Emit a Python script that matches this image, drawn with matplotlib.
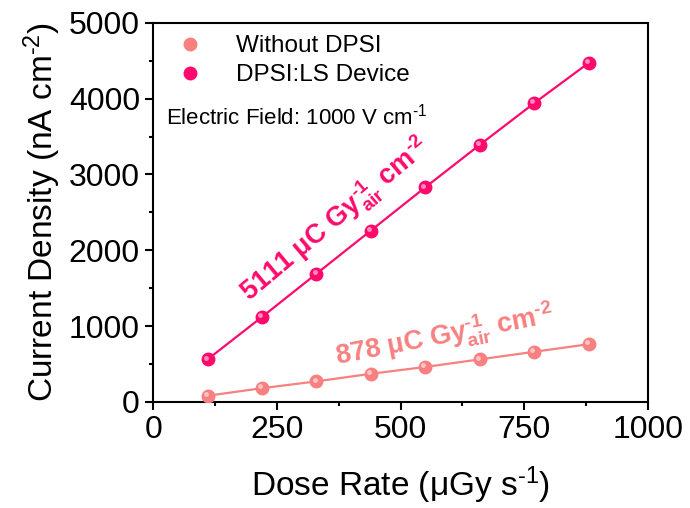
import numpy as np
import matplotlib
matplotlib.use('Agg')
import matplotlib.pyplot as plt
from matplotlib.transforms import offset_copy
from matplotlib.ticker import MultipleLocator

plt.rcParams['font.family'] = ['Liberation Sans', 'DejaVu Sans']
plt.rcParams['mathtext.fontset'] = 'custom'
plt.rcParams['mathtext.rm'] = 'Liberation Sans'
plt.rcParams['mathtext.it'] = 'Liberation Sans'
plt.rcParams['mathtext.bf'] = 'Liberation Sans:bold'

# dose rate (uGy/s) and current density (nA/cm2)
dosis = np.array([110, 220, 330, 440, 550, 660, 770, 880])
sin_dpsi = np.array([80, 180, 270, 370, 460, 560, 660, 760])
con_dpsi = np.array([560, 1120, 1690, 2260, 2830, 3390, 3940, 4470])

etiquetas = ['Without DPSI', 'DPSI:LS Device']
pendientes = ['878', '5111']
colores = ['#F88080', '#FF0A6C']

guion = '\u2010'  # guion corto para los exponentes


def esfera(ax, x, y, color):
	'''dibuja puntos con brillo para que parezcan esferas'''
	ax.plot(x, y, 'o', color=color, ms=9, mec=color, zorder=4)
	brillo = offset_copy(ax.transData, fig=ax.figure, x=-1.3, y=1.3, units='points')
	ax.plot(x, y, 'o', color='white', ms=3.5, mec='none', alpha=0.55,
		transform=brillo, zorder=5)


def sensibilidad(valor):
	return (valor + r' $\mathbf{\mu}$C Gy$_{\mathbf{air}}^{\mathbf{' + guion + r'1}}$ cm$^{\mathbf{'
		+ guion + r'2}}$')


fig = plt.figure(figsize=(6.9, 5.08), dpi=100)
ax = fig.add_axes([0.222, 0.209, 0.717, 0.746])

for y, color, nombre in zip([sin_dpsi, con_dpsi], colores, etiquetas):
	ax.plot(dosis, y, '-', color=color, lw=1.6, zorder=3)
	ax.plot([], [], 'o', color=color, ms=9, label=nombre)
	esfera(ax, dosis, y, color)

ax.set_xlim(0, 1000)
ax.set_ylim(0, 5000)
ax.xaxis.set_major_locator(MultipleLocator(250))
ax.xaxis.set_minor_locator(MultipleLocator(125))
ax.yaxis.set_major_locator(MultipleLocator(1000))
ax.yaxis.set_minor_locator(MultipleLocator(500))
ax.tick_params(which='major', direction='out', length=6, width=1.5, labelsize=23)
ax.tick_params(which='minor', direction='out', length=3, width=1.5)
for s in ax.spines.values():
	s.set_linewidth(1.5)

ax.set_xlabel(r'Dose Rate ($\mathregular{\mu}$Gy s$^{\mathregular{' + guion + '1}}$)',
	fontsize=24, labelpad=14)
ax.set_ylabel(r'Current Density (nA cm$^{\mathregular{' + guion + '2}}$)',
	fontsize=24, labelpad=4)

ax.legend(loc='upper left', fontsize=17.5, frameon=False, handletextpad=0.9,
	borderaxespad=0.1, labelspacing=0.3, bbox_to_anchor=(0.0, 1.0))
ax.text(0.025, 0.752, r'Electric Field: 1000 V cm$^{\mathregular{' + guion + '1}}$',
	transform=ax.transAxes, fontsize=16, va='center')

ax.text(368, 2400, sensibilidad(pendientes[1]),
	color=colores[1], fontsize=19.5, fontweight='bold', rotation=40,
	ha='center', va='center', rotation_mode='anchor')
ax.text(590, 860, sensibilidad(pendientes[0]),
	color=colores[0], fontsize=19.5, fontweight='bold', rotation=11,
	ha='center', va='center', rotation_mode='anchor')

fig.savefig('out.png', dpi=100)
